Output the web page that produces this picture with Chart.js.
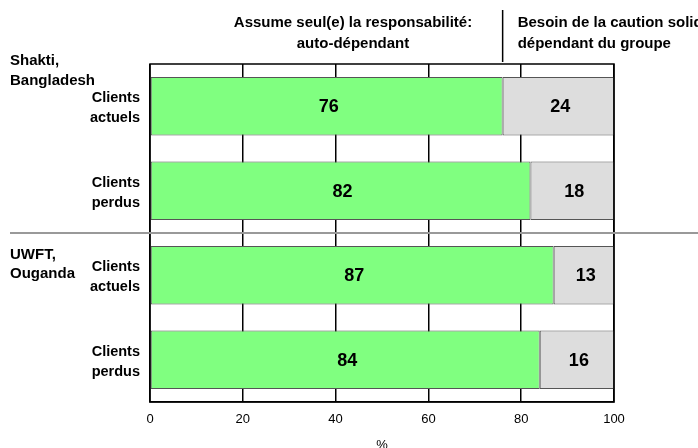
<!DOCTYPE html>
<html>
<head>
<meta charset="utf-8">
<script src="https://cdn.jsdelivr.net/npm/chart.js@4.4.1/dist/chart.umd.min.js"></script>
<style>
  html, body { margin: 0; padding: 0; background: #fff; }
  #wrap { width: 698px; height: 448px; position: relative; }
</style>
</head>
<body>
<div id="wrap"><canvas id="chart"></canvas></div>
<script>
const categories = [['Clients', 'actuels'], ['Clients', 'perdus'], ['Clients', 'actuels'], ['Clients', 'perdus']];
const autoDependant = [76, 82, 87, 84];
const groupeDependant = [24, 18, 13, 16];
const xTicks = [0, 20, 40, 60, 80, 100];
const groups = [['Shakti,', 'Bangladesh'], ['UWFT,', 'Ouganda']];
const headers = [['Assume seul(e) la responsabilité:', 'auto-dépendant'], ['Besoin de la caution solidaire:', 'dépendant du groupe']];

const FONT = 'Arial, "Liberation Sans", sans-serif';

// labels, separator and header text drawn on the canvas
const extras = {
    id: 'extras',
    afterDraw(chart) {
        const ctx = chart.ctx;
        const area = chart.chartArea;
        const x = chart.scales.x;
        const y = chart.scales.y;
        ctx.save();

        // plot frame
        ctx.strokeStyle = '#000';
        ctx.lineWidth = 1.5;
        ctx.strokeRect(area.left, area.top, area.right - area.left, area.bottom - area.top);

        // values inside the bars
        ctx.font = 'bold 18px ' + FONT;
        ctx.fillStyle = '#000';
        ctx.textAlign = 'center';
        ctx.textBaseline = 'middle';
        chart.data.datasets.forEach((ds, i) => {
            chart.getDatasetMeta(i).data.forEach((bar, j) => {
                const c = bar.getCenterPoint();
                ctx.fillText(ds.data[j], c.x + 2, c.y + 1);
            });
        });

        // separator between the two groups
        const sepY = (y.getPixelForValue(1) + y.getPixelForValue(2)) / 2;
        ctx.strokeStyle = '#999';
        ctx.lineWidth = 2;
        ctx.beginPath();
        ctx.moveTo(10, sepY);
        ctx.lineTo(chart.width, sepY);
        ctx.stroke();

        // group names
        ctx.font = 'bold 15px ' + FONT;
        ctx.textAlign = 'left';
        ctx.fillText(groups[0][0], 10, area.top - 3);
        ctx.fillText(groups[0][1], 10, area.top + 17);
        ctx.fillText(groups[1][0], 10, sepY + 22);
        ctx.fillText(groups[1][1], 10, sepY + 41);

        // headers, the first one centred over the green part of the first bar
        const divX = x.getPixelForValue(autoDependant[0]);
        ctx.textAlign = 'center';
        ctx.fillText(headers[0][0], 353, 23);
        ctx.fillText(headers[0][1], 353, 44);
        ctx.textAlign = 'left';
        ctx.fillText(headers[1][0], divX + 15, 23);
        ctx.fillText(headers[1][1], divX + 15, 44);

        ctx.strokeStyle = '#000';
        ctx.lineWidth = 1.5;
        ctx.beginPath();
        ctx.moveTo(divX, 10);
        ctx.lineTo(divX, area.top - 2);
        ctx.stroke();

        ctx.restore();
    }
};

new Chart(document.getElementById('chart'), {
    type: 'bar',
    data: {
        labels: categories,
        datasets: [
            {
                label: 'auto-dépendant',
                data: autoDependant,
                backgroundColor: '#80FF80',
                borderColor: '#555',
                borderWidth: 1,
                borderSkipped: false,
                barPercentage: 0.69,
                categoryPercentage: 1
            },
            {
                label: 'dépendant du groupe',
                data: groupeDependant,
                backgroundColor: '#DDDDDD',
                borderColor: '#555',
                borderWidth: 1,
                borderSkipped: false,
                barPercentage: 0.69,
                categoryPercentage: 1
            }
        ]
    },
    options: {
        indexAxis: 'y',
        responsive: true,
        maintainAspectRatio: false,
        animation: false,
        layout: { padding: { top: 64, right: 84, left: 0, bottom: 0 } },
        plugins: {
            legend: { display: false },
            tooltip: { enabled: false }
        },
        scales: {
            x: {
                stacked: true,
                min: 0,
                max: 100,
                afterBuildTicks: scale => { scale.ticks = xTicks.map(v => ({ value: v })); },
                afterFit: scale => { scale.height = 46; },
                grid: { color: '#000', lineWidth: 1.5, drawTicks: false },
                border: { color: '#000', width: 1.5 },
                ticks: { color: '#000', padding: 10, font: { family: FONT, size: 13 } },
                title: { display: true, text: '%', color: '#000', padding: { top: 0, bottom: -2 }, font: { family: FONT, size: 13, lineHeight: 0.7 } }
            },
            y: {
                stacked: true,
                afterFit: scale => { scale.width = 150; },
                grid: { display: false },
                border: { display: false },
                ticks: { color: '#000', padding: 2, labelOffset: 2, font: { family: FONT, size: 14.5, weight: 'bold', lineHeight: 1.4 } }
            }
        }
    },
    plugins: [extras]
});
</script>
</body>
</html>
